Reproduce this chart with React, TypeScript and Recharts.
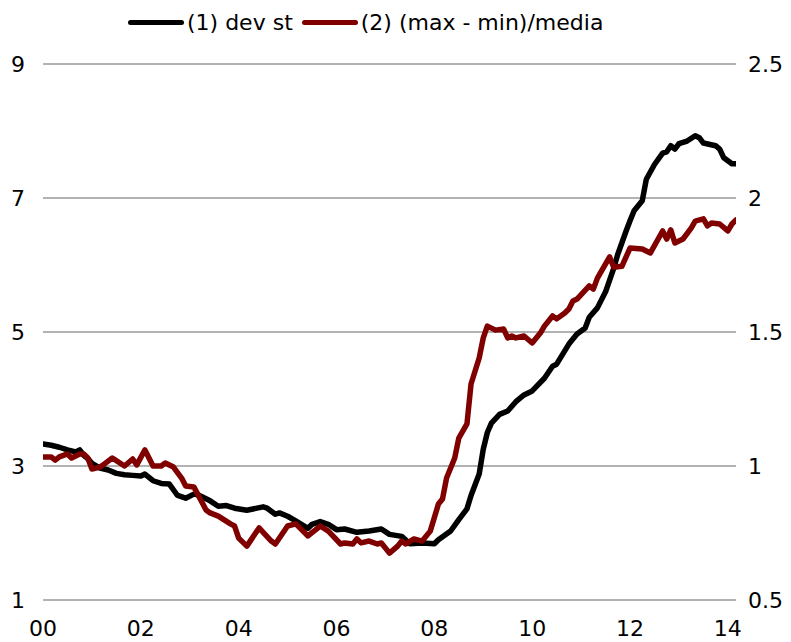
import React from 'react';
import { LineChart, Line, XAxis, YAxis, CartesianGrid, Legend } from 'recharts';

// months since Jan 2000
const blackMonths = [0,2,4,6,8,9,10,11,12,14,16,18,20,22,24,25,27,29,31,33,35,37,38,41,43,45,47,50,54,55,57,58,60,62,65,66,68,70,72,74,77,80,83,85,88,90,93,96,97,100,102,104,105,107,108,109,110,112,114,116,118,120,123,125,126,129,131,133,134,136,138,140,141,143,144,145,147,148,150,152,153,154,155,156,158,160,161,162,165,166,167,169,170];
const blackValues = [3.33,3.31,3.28,3.24,3.21,3.24,3.16,3.11,3.04,2.97,2.94,2.89,2.87,2.86,2.85,2.88,2.78,2.74,2.73,2.56,2.52,2.58,2.57,2.48,2.40,2.41,2.37,2.34,2.39,2.37,2.28,2.30,2.25,2.18,2.07,2.13,2.17,2.13,2.05,2.06,2.01,2.03,2.06,1.98,1.95,1.84,1.85,1.84,1.90,2.03,2.20,2.36,2.56,2.88,3.25,3.50,3.64,3.77,3.82,3.96,4.06,4.12,4.31,4.49,4.52,4.82,4.97,5.06,5.22,5.36,5.60,5.95,6.16,6.50,6.66,6.81,6.96,7.28,7.50,7.67,7.69,7.78,7.73,7.81,7.85,7.93,7.90,7.82,7.78,7.73,7.60,7.51,7.51];

const redMonths = [0,2,3,4,6,7,9,10,11,12,14,15,17,20,22,23,25,27,29,30,32,34,35,37,40,41,43,46,47,48,50,53,56,57,60,62,63,65,68,70,73,74,76,77,78,80,82,83,85,87,88,89,91,93,95,97,98,99,101,102,104,105,107,108,109,111,113,114,115,116,118,120,122,123,125,126,128,129,130,131,134,135,136,139,140,142,144,147,149,152,153,154,155,157,159,160,162,163,164,166,168,169,170];
const redValues = [1.034,1.034,1.022,1.034,1.045,1.030,1.045,1.045,1.030,0.989,0.996,1.007,1.030,1.000,1.026,1.004,1.060,1.000,1.000,1.011,0.996,0.955,0.925,0.922,0.836,0.825,0.813,0.784,0.776,0.731,0.701,0.769,0.720,0.709,0.776,0.784,0.769,0.739,0.776,0.757,0.709,0.713,0.709,0.728,0.713,0.720,0.709,0.713,0.675,0.701,0.720,0.709,0.728,0.720,0.757,0.858,0.877,0.955,1.030,1.104,1.157,1.306,1.403,1.478,1.522,1.507,1.511,1.478,1.485,1.478,1.485,1.459,1.496,1.522,1.560,1.549,1.571,1.586,1.616,1.623,1.672,1.660,1.701,1.780,1.742,1.745,1.813,1.810,1.795,1.877,1.847,1.881,1.832,1.847,1.888,1.914,1.922,1.896,1.907,1.903,1.877,1.903,1.918];

const xTicks = [0, 24, 48, 72, 96, 120, 144, 168];
const leftTicks = [1, 3, 5, 7, 9];
const rightTicks = [0.5, 1, 1.5, 2, 2.5];
const seriesNames = ['(1) dev st', '(2) (max - min)/media'];
const seriesColors = ['#000000', '#800000'];

const blackData = blackMonths.map((m, i) => ({ m, v: blackValues[i] }));
const redData = redMonths.map((m, i) => ({ m, v: redValues[i] }));

const FONT = 'Verdana, "DejaVu Sans", sans-serif';

const renderLegend = () => (
  <div style={{ display: 'flex', alignItems: 'center', height: 40, paddingLeft: 128, fontFamily: FONT, fontSize: 22, color: '#000' }}>
    {seriesNames.map((n, i) => (
      <div key={n} style={{ display: 'flex', alignItems: 'center', marginRight: 9 }}>
        <span style={{ display: 'inline-block', width: 56, height: 5, borderRadius: 3, background: seriesColors[i] }} />
        <span style={{ marginLeft: 3, whiteSpace: 'nowrap' }}>{n}</span>
      </div>
    ))}
  </div>
);

export default function App() {
  return (
    <div style={{ position: 'absolute', left: 0, top: 0, width: 791, height: 642, background: '#fff' }}>
      <LineChart width={791} height={642} margin={{ top: 24, right: 0, left: 0, bottom: 0 }} style={{ fontFamily: FONT }}>
        <Legend verticalAlign="top" content={renderLegend} wrapperStyle={{ top: 2, left: 0, width: 791, height: 40 }} />
        <CartesianGrid vertical={false} stroke="#666666" yAxisId="left" />
        <XAxis type="number" dataKey="m" domain={[0, 170]} ticks={xTicks}
          tickFormatter={(m: number) => String(Math.round(m / 12)).padStart(2, '0')}
          axisLine={false} tickLine={false} tickSize={0} tickMargin={20} height={42}
          tick={{ fill: '#000', fontSize: 22 }} allowDataOverflow />
        <YAxis yAxisId="left" domain={[1, 9]} ticks={leftTicks} width={43}
          axisLine={false} tickLine={false} tickSize={0} tickMargin={18}
          tick={{ fill: '#000', fontSize: 22 }} />
        <YAxis yAxisId="right" orientation="right" domain={[0.5, 2.5]} ticks={rightTicks} width={55}
          axisLine={false} tickLine={false} tickSize={0} tickMargin={12}
          tick={{ fill: '#000', fontSize: 22 }} />
        <Line data={blackData} dataKey="v" yAxisId="left" name={seriesNames[0]} stroke={seriesColors[0]}
          strokeWidth={5.5} dot={false} type="linear" isAnimationActive={false} strokeLinejoin="round" strokeLinecap="round" />
        <Line data={redData} dataKey="v" yAxisId="right" name={seriesNames[1]} stroke={seriesColors[1]}
          strokeWidth={5.5} dot={false} type="linear" isAnimationActive={false} strokeLinejoin="round" strokeLinecap="round" />
      </LineChart>
    </div>
  );
}
